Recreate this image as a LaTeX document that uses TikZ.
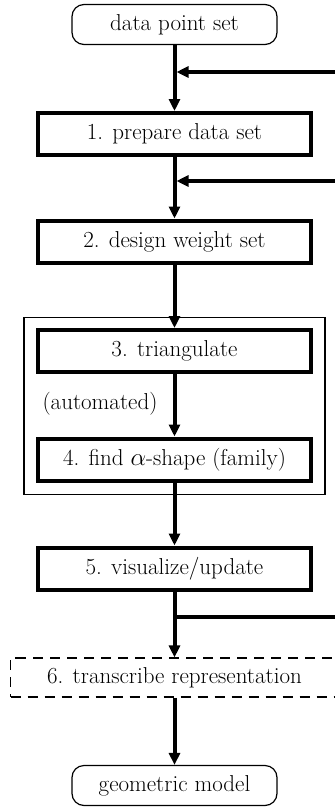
\documentclass[tikz,border=0pt]{standalone}
\usetikzlibrary{arrows.meta}
\begin{document}
\begin{tikzpicture}[x=1pt,y=-1pt,
  font=\fontsize{23}{27}\selectfont,
  stepbox/.style={draw,line width=4pt,minimum width=273pt,minimum height=42pt,inner sep=0pt},
  term/.style={draw,line width=1.2pt,rounded corners=12pt,minimum width=205pt,minimum height=40pt,inner sep=0pt},
  groupbox/.style={draw,line width=1.2pt,minimum width=301pt,minimum height=177pt,inner sep=0pt},
  dashbox/.style={draw,line width=1.5pt,dash pattern=on 10pt off 7pt,minimum width=328pt,minimum height=39pt,inner sep=0pt},
  tip/.style={-{Triangle[length=12pt,width=11pt]}},
  flow/.style={line width=4pt,tip},
  feed/.style={line width=4pt}]
\useasboundingbox (0,0) rectangle (335,807);
\clip (0,0) rectangle (335,807);
% nodes
\node[term] (t1) at (174.5,24.5) {data point set};
\node[stepbox] (b1) at (174.5,134) {1. prepare data set};
\node[stepbox] (b2) at (174.5,241.5) {2. design weight set};
\node[groupbox] (grp) at (174.5,406) {};
\node[stepbox] (b3) at (174.5,351) {3. triangulate};
\node (auto) at (100,404) {(automated)};
\node[stepbox] (b4) at (174.5,459.5) {4. find $\alpha$-shape (family)};
\node[stepbox] (b5) at (174.5,568.5) {5. visualize/update};
\node[dashbox] (b6) at (174.5,677.7) {6. transcribe representation};
\node[term] (t2) at (174.5,785.5) {geometric model};
% junctions
\coordinate (j1) at (174.5,72);
\coordinate (e1) at (337,72);
\coordinate (j2) at (174.5,181);
\coordinate (e2) at (337,181);
\coordinate (j3) at (174.5,617);
\coordinate (e3) at (337,617);
% connectors
\draw[flow] (t1.south) -- (b1.north);
\draw[flow] (b1.south) -- (b2.north);
\draw[flow] (b2.south) -- (b3.north);
\draw[flow] (b3.south) -- (b4.north);
\draw[flow] (b4.south) -- (b5.north);
\draw[flow] (b5.south) -- (b6.north);
\draw[flow] (b6.south) -- (t2.north);
\draw[feed,tip,shorten >=2pt] (e1) -- (j1);
\draw[feed,tip,shorten >=2pt] (e2) -- (j2);
\draw[feed] (j3) -- (e3);
\end{tikzpicture}
\end{document}
